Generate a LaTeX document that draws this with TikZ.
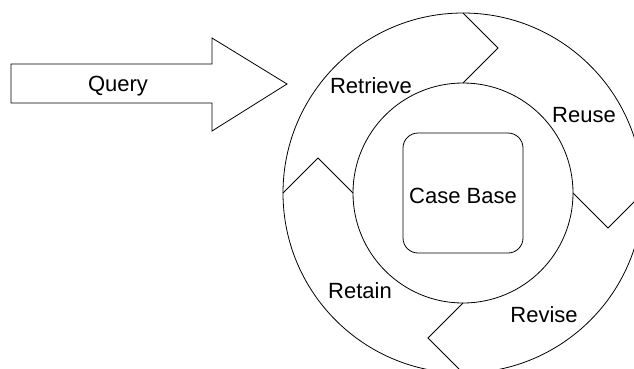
\documentclass[tikz,border=0pt]{standalone}
\usepackage{fontspec}
\setmainfont{Liberation Sans}
\begin{document}
\begin{tikzpicture}[x=1pt,y=1pt,line width=0.8pt]
			\tikzstyle{every node}+=[inner sep=0pt,font=\fontsize{22}{26}\selectfont]
			\clip (0,0) rectangle (634,-368);
			\draw [black] (463,-193) circle (180);
			\draw [black] (463,-193) circle (110);
			\draw [black] (463,-13) -- (498,-48) -- (463,-83);
			\draw [black] (643,-193) -- (608,-228) -- (573,-193);
			\draw [black] (463,-373) -- (428,-338) -- (463,-303);
			\draw [black] (283,-193) -- (318,-158) -- (353,-193);
			\draw [black, rounded corners=15] (403,-133) rectangle (523,-253);
			\draw (463,-203) node (casebase) [anchor=base] {Case Base};
			\draw (371,-93) node (retrieve) [anchor=base] {Retrieve};
			\draw (584,-122) node (reuse) [anchor=base] {Reuse};
			\draw (544,-322) node (revise) [anchor=base] {Revise};
			\draw (360,-298) node (retain) [anchor=base] {Retain};
			\draw [black] (11,-64) -- (212,-64) -- (212,-38) -- (287,-84) -- (212,-131) -- (212,-103) -- (11,-103) -- cycle;
			\draw (118,-91) node (query) [anchor=base] {Query};
			\end{tikzpicture}
\end{document}
